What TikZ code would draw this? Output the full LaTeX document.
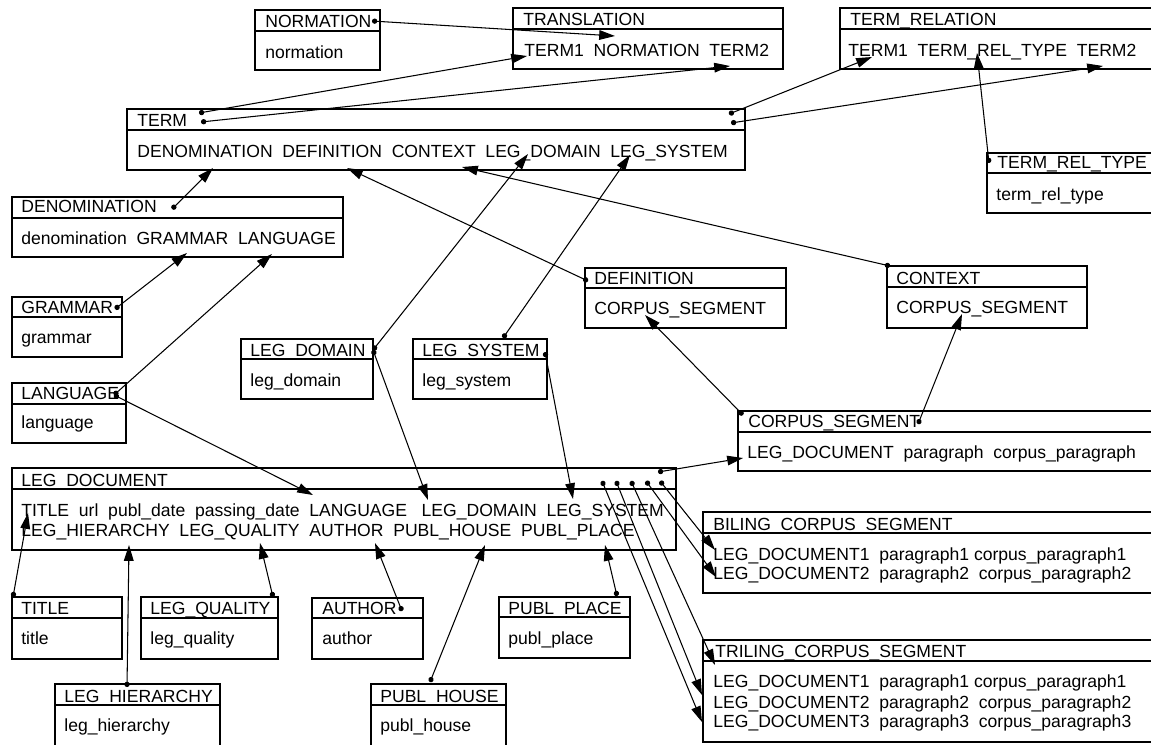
\documentclass[tikz,border=0pt]{standalone}
\usepackage{fontspec}
\setmainfont{Liberation Sans}
\usetikzlibrary{arrows.meta}

\begin{document}
\begin{tikzpicture}[x=0.02cm,y=-0.02cm]
    \tikzstyle{tbl}=[line width=0.7pt]
    \tikzstyle{lbl}=[anchor=base west,inner sep=0pt,font=\fontsize{10}{12}\selectfont]
    \tikzstyle{link}=[line width=0.6pt,{Circle[length=3pt]}-{Triangle[length=9pt,width=5.5pt]}]
    \useasboundingbox (0,0) rectangle (1151,744);
    \clip (0,0) rectangle (1151,744);
    % Draw the tables: left/top/header line/right/bottom
    \foreach \l/\t/\h/\r/\b in {255/10/31/380/70, 513/8/29/783/69, 840/8/29/1160/69,
        127/109/130/745/170, 987/153/173/1160/213, 12/197/218/343/257,
        12/297/317/122/357, 12/383/404/126/443, 241/339/359/373/399,
        413/339/359/547/399, 585/268/288/786/328, 887/266/287/1087/328,
        738/411/432/1160/471, 12/468/489/676/550, 12/597/618/122/659,
        141/597/618/278/659, 312/598/618/423/659, 499/597/617/630/658,
        55/684/705/220/760, 371/684/705/506/760, 703/512/533/1160/593,
        703/640/661/1160/742}
        \draw[tbl] (\l,\t) rectangle (\r,\b) (\l,\h) -- (\r,\h);
    % Table names and columns
    \node[lbl] (normation) at (265,27) {NORMATION};
    \node[lbl] (normation-c) at (265,58) {normation};
    \node[lbl] (translation) at (523,25) {TRANSLATION};
    \node[lbl] (translation-c) at (524,56) {TERM1~~NORMATION~~TERM2};
    \node[lbl] (relation) at (850,25) {TERM\_RELATION};
    \node[lbl] (relation-c) at (848,56) {TERM1~~TERM\_REL\_TYPE~~TERM2};
    \node[lbl] (term) at (137,126) {TERM};
    \node[lbl] (term-c) at (137,157) {DENOMINATION~~DEFINITION~~CONTEXT~~LEG\_DOMAIN~~LEG\_SYSTEM};
    \node[lbl] (reltype) at (997,168) {TERM\_REL\_TYPE};
    \node[lbl] (reltype-c) at (996,200) {term\_rel\_type};
    \node[lbl] (denomination) at (21,212) {DENOMINATION};
    \node[lbl] (denomination-c) at (21,244) {denomination~~GRAMMAR~~LANGUAGE};
    \node[lbl] (grammar) at (21,313) {GRAMMAR};
    \node[lbl] (grammar-c) at (21,343) {grammar};
    \node[lbl] (language) at (21,399) {LANGUAGE};
    \node[lbl] (language-c) at (21,428) {language};
    \node[lbl] (domain) at (250,356) {LEG\_DOMAIN};
    \node[lbl] (domain-c) at (250,386) {leg\_domain};
    \node[lbl] (system) at (422,356) {LEG\_SYSTEM};
    \node[lbl] (system-c) at (422,386) {leg\_system};
    \node[lbl] (definition) at (594,284) {DEFINITION};
    \node[lbl] (definition-c) at (594,314) {CORPUS\_SEGMENT};
    \node[lbl] (context) at (896,284) {CONTEXT};
    \node[lbl] (context-c) at (896,313) {CORPUS\_SEGMENT};
    \node[lbl] (segment) at (748,427) {CORPUS\_SEGMENT};
    \node[lbl] (segment-c) at (747,458) {LEG\_DOCUMENT~~paragraph~~corpus\_paragraph};
    \node[lbl] (document) at (21,486) {LEG\_DOCUMENT};
    \node[lbl] (document-c1) at (21,516) {TITLE~~url~~publ\_date~~passing\_date~~LANGUAGE~~~LEG\_DOMAIN~~LEG\_SYSTEM};
    \node[lbl] (document-c2) at (21,536) {LEG\_HIERARCHY~~LEG\_QUALITY~~AUTHOR~~PUBL\_HOUSE~~PUBL\_PLACE};
    \node[lbl] (title) at (21,614) {TITLE};
    \node[lbl] (title-c) at (21,644) {title};
    \node[lbl] (quality) at (150,614) {LEG\_QUALITY};
    \node[lbl] (quality-c) at (150,644) {leg\_quality};
    \node[lbl] (author) at (322,614) {AUTHOR};
    \node[lbl] (author-c) at (322,644) {author};
    \node[lbl] (place) at (508,614) {PUBL\_PLACE};
    \node[lbl] (place-c) at (508,644) {publ\_place};
    \node[lbl] (hierarchy) at (64,702) {LEG\_HIERARCHY};
    \node[lbl] (hierarchy-c) at (64,731) {leg\_hierarchy};
    \node[lbl] (house) at (380,702) {PUBL\_HOUSE};
    \node[lbl] (house-c) at (380,731) {publ\_house};
    \node[lbl] (biling) at (713,530) {BILING\_CORPUS\_SEGMENT};
    \node[lbl] (biling-c1) at (713,560) {LEG\_DOCUMENT1~~paragraph1 corpus\_paragraph1};
    \node[lbl] (biling-c2) at (713,579) {LEG\_DOCUMENT2~~paragraph2~~corpus\_paragraph2};
    \node[lbl] (triling) at (715,657) {TRILING\_CORPUS\_SEGMENT};
    \node[lbl] (triling-c1) at (713,687) {LEG\_DOCUMENT1~~paragraph1 corpus\_paragraph1};
    \node[lbl] (triling-c2) at (713,708) {LEG\_DOCUMENT2~~paragraph2~~corpus\_paragraph2};
    \node[lbl] (triling-c3) at (713,727) {LEG\_DOCUMENT3~~paragraph3~~corpus\_paragraph3};
    % Key ends (dots) and reference ends (arrows)
    \coordinate (norm-o) at (372,21);   \coordinate (trans-norm) at (615,36);
    \coordinate (term-o1) at (199,113); \coordinate (trans-t1) at (527,56);
    \coordinate (term-o2) at (201,122); \coordinate (trans-t2) at (730,66);
    \coordinate (term-o3) at (729,114); \coordinate (rel-t1) at (872,57);
    \coordinate (term-o4) at (731,123); \coordinate (rel-t2) at (1103,66);
    \coordinate (reltype-o) at (989,163); \coordinate (rel-type) at (977,53);
    \coordinate (denom-o) at (172,209); \coordinate (term-denom) at (213,168);
    \coordinate (gram-o) at (115,309);  \coordinate (denom-gram) at (187,253);
    \coordinate (lang-o) at (114,395);  \coordinate (denom-lang) at (272,254);
    \coordinate (doc-lang) at (313,495);
    \coordinate (dom-o) at (373,350);   \coordinate (term-dom) at (528,154);
    \coordinate (doc-dom) at (428,500);
    \coordinate (sys-o1) at (503,338);  \coordinate (term-sys) at (630,155);
    \coordinate (sys-o2) at (545,352);  \coordinate (doc-sys) at (573,499);
    \coordinate (def-o) at (588,281);   \coordinate (term-def) at (347,168);
    \coordinate (ctx-o) at (890,266);   \coordinate (term-ctx) at (462,167);
    \coordinate (seg-o1) at (743,415);  \coordinate (def-seg) at (645,315);
    \coordinate (seg-o2) at (918,424);  \coordinate (ctx-seg) at (962,314);
    \coordinate (doc-o) at (658,472);   \coordinate (seg-doc) at (743,458);
    \coordinate (doc-o1) at (660,481);  \coordinate (bil-d1) at (715,550);
    \coordinate (doc-o2) at (646,481);  \coordinate (bil-d2) at (716,577);
    \coordinate (doc-o3) at (631,481);  \coordinate (tri-head) at (715,665);
    \coordinate (doc-o4) at (616,481);  \coordinate (tri-d2) at (702,695);
    \coordinate (doc-o5) at (602,481);  \coordinate (tri-d3) at (702,722);
    \coordinate (title-o) at (13,597);  \coordinate (doc-title) at (28,513);
    \coordinate (hier-o) at (127,687);  \coordinate (doc-hier) at (129,545);
    \coordinate (qual-o) at (273,597);  \coordinate (doc-qual) at (260,543);
    \coordinate (auth-o) at (402,611);  \coordinate (doc-auth) at (375,543);
    \coordinate (house-o) at (430,682); \coordinate (doc-house) at (485,545);
    \coordinate (place-o) at (617,596); \coordinate (doc-place) at (605,545);
    % Draw the references
    \foreach \a/\b in {norm-o/trans-norm, term-o1/trans-t1, term-o2/trans-t2,
        term-o3/rel-t1, term-o4/rel-t2, reltype-o/rel-type, denom-o/term-denom,
        gram-o/denom-gram, lang-o/denom-lang, lang-o/doc-lang, dom-o/term-dom,
        dom-o/doc-dom, sys-o1/term-sys, sys-o2/doc-sys, def-o/term-def,
        ctx-o/term-ctx, seg-o1/def-seg, seg-o2/ctx-seg, doc-o/seg-doc,
        doc-o1/bil-d1, doc-o2/bil-d2, doc-o3/tri-head, doc-o4/tri-d2,
        doc-o5/tri-d3, title-o/doc-title, hier-o/doc-hier, qual-o/doc-qual,
        auth-o/doc-auth, house-o/doc-house, place-o/doc-place}
        \draw[link] (\a) -- (\b);
\end{tikzpicture}
\end{document}
